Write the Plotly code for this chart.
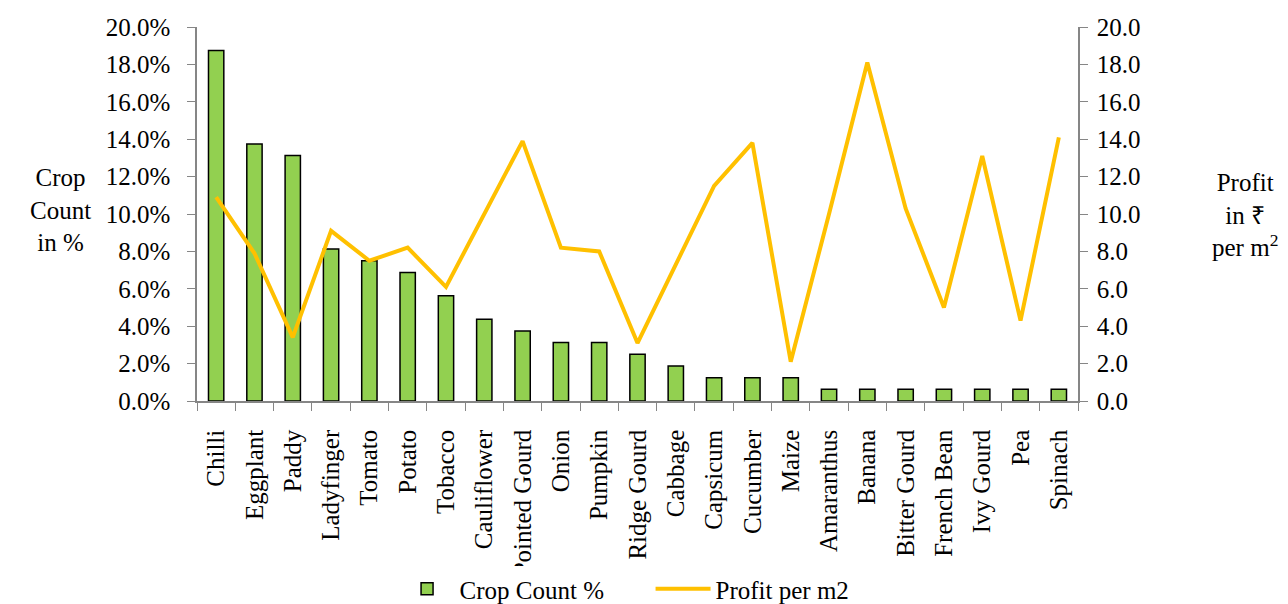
import plotly.graph_objects as go

crops = ["Chilli", "Eggplant", "Paddy", "Ladyfinger", "Tomato", "Potato", "Tobacco",
         "Cauliflower", "Pointed Gourd", "Onion", "Pumpkin", "Ridge Gourd", "Cabbage",
         "Capsicum", "Cucumber", "Maize", "Amaranthus", "Banana", "Bitter Gourd",
         "French Bean", "Ivy Gourd", "Pea", "Spinach"]
crop_count_pct = [18.75, 13.75, 13.125, 8.125, 7.5, 6.875, 5.625, 4.375, 3.75, 3.125,
                  3.125, 2.5, 1.875, 1.25, 1.25, 1.25, 0.625, 0.625, 0.625, 0.625,
                  0.625, 0.625, 0.625]
profit_per_m2 = [10.9, 7.9, 3.4, 9.1, 7.5, 8.2, 6.1, 10.0, 13.9, 8.2, 8.0, 3.1, 7.3,
                 11.5, 13.8, 2.1, 10.0, 18.1, 10.3, 5.0, 13.1, 4.3, 14.1]
ticks_left = [0, 2, 4, 6, 8, 10, 12, 14, 16, 18, 20]

font = dict(family="Liberation Serif, Times New Roman, serif", size=25, color="black")

fig = go.Figure()
fig.add_trace(go.Bar(
    x=crops, y=crop_count_pct, name="Crop Count %",
    marker=dict(color="#92D050", line=dict(color="black", width=1.5)),
    width=0.4,
))
fig.add_trace(go.Scatter(
    x=crops, y=profit_per_m2, name="Profit per m2", yaxis="y2",
    mode="lines", line=dict(color="#FFC000", width=4),
))

axis_common = dict(showline=True, linecolor="#868686", linewidth=1.5,
                   ticks="outside", tickcolor="#868686", ticklen=8,
                   showgrid=False, zeroline=False, tickfont=font)

# page body has an 8px margin, so the figure is a bit smaller than the window
fig.update_layout(
    width=1280, height=596,
    margin=dict(l=189, r=210, t=19, b=203, autoexpand=False),
    plot_bgcolor="white", paper_bgcolor="white",
    font=font,
    showlegend=True,
    legend=dict(orientation="h", xref="container", yref="container",
                x=0.302, xanchor="left", y=0.025, yanchor="middle",
                itemwidth=55, entrywidth=186,
                font=font, traceorder="normal"),
    xaxis=dict(**axis_common, tickangle=-90, tickson="boundaries", ticklabelstandoff=17),
    yaxis=dict(**axis_common, range=[0, 20], tickvals=ticks_left, ticklabelstandoff=12,
               ticktext=[f"{v:.1f}%" for v in ticks_left]),
    yaxis2=dict(**axis_common, overlaying="y", side="right", range=[0, 20],
                tickvals=ticks_left, ticklabelstandoff=4,
                ticktext=[f"{v:.1f}" for v in ticks_left]),
    bargap=0.6,
)

fig.add_annotation(text="Crop<br>Count<br>in %", xref="paper", yref="paper",
                   x=-0.1555, y=0.511, xanchor="center", yanchor="middle",
                   showarrow=False, font=font, align="center")
fig.add_annotation(text="Profit<br>in ₹<br>per m<sup>2</sup>", xref="paper", yref="paper",
                   x=1.1895, y=0.497, xanchor="center", yanchor="middle",
                   showarrow=False, font=font, align="center")

fig.write_html("out.html")
